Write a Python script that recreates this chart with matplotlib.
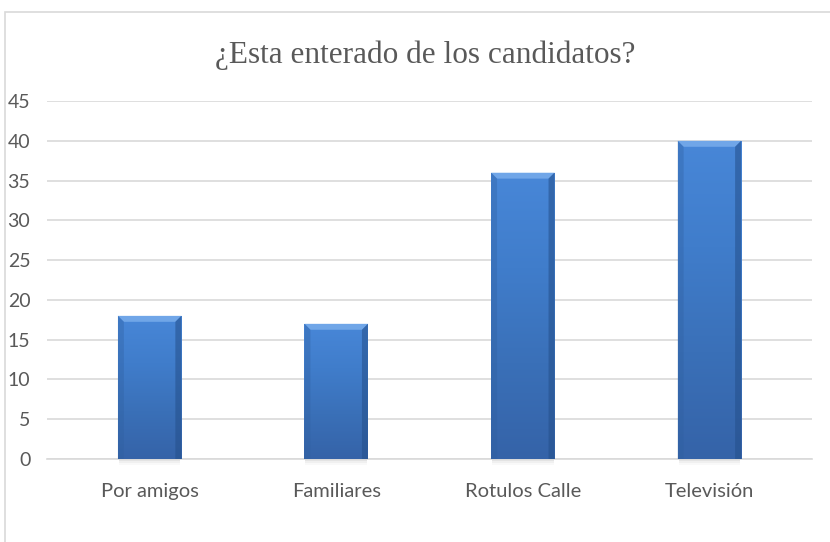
import numpy as np
import matplotlib.pyplot as plt
from matplotlib.colors import LinearSegmentedColormap
from matplotlib.patches import Polygon, Rectangle

# Encuesta: medio por el que se enteraron de los candidatos
categorias = ['Por amigos', 'Familiares', 'Rotulos Calle', 'Televisión']
respuestas = [18, 17, 36, 40]
titulo = '¿Esta enterado de los candidatos?'

gris_texto = '#595959'
gris_linea = '#d9d9d9'

fig = plt.figure(figsize=(8.3, 5.42), dpi=100)
ax = fig.add_axes([47 / 830, 1 - 459 / 542, 765 / 830, 358 / 542])

# marco del grafico
fig.patches.append(Rectangle((5 / 830, -0.05), 1.1, 1 - 12 / 542 + 0.05,
                             transform=fig.transFigure, fill=False,
                             edgecolor=gris_linea, linewidth=1.2))

ancho = 0.34
x = np.arange(len(categorias))
barras = ax.bar(x, respuestas, width=ancho, color='#3b74c0', zorder=3)

ax.set_xlim(-0.55, len(categorias) - 0.45)
ax.set_ylim(0, 45)

# degradado vertical dentro de cada barra
degradado = LinearSegmentedColormap.from_list(
    'azul', ['#3563a8', '#3a70b8', '#407dcb', '#4887d8'])
grad = np.linspace(0, 1, 256).reshape(-1, 1)

# tamaño del bisel en unidades de datos (~6 px)
bx = 6 / 187
by = 6 * 45 / 358

for rect, valor in zip(barras, respuestas):
    x0 = rect.get_x()
    x1 = x0 + rect.get_width()
    im = ax.imshow(grad, cmap=degradado, aspect='auto', origin='lower',
                   extent=[x0, x1, 0, valor], zorder=3.1)
    im.set_clip_path(rect)
    # bisel superior claro
    ax.add_patch(Polygon([[x0, valor], [x1, valor], [x1 - bx, valor - by],
                          [x0 + bx, valor - by]], closed=True,
                         facecolor='#7fb2ee', alpha=0.75, lw=0, zorder=3.2))
    # bisel izquierdo
    ax.add_patch(Polygon([[x0, 0], [x0, valor], [x0 + bx, valor - by],
                          [x0 + bx, 0]], closed=True,
                         facecolor='#2f5f9f', alpha=0.35, lw=0, zorder=3.2))
    # bisel derecho oscuro
    ax.add_patch(Polygon([[x1, 0], [x1, valor], [x1 - bx, valor - by],
                          [x1 - bx, 0]], closed=True,
                         facecolor='#244f8a', alpha=0.55, lw=0, zorder=3.2))
    # sombra suave bajo la barra
    for k, a in enumerate([0.10, 0.07, 0.04]):
        ax.add_patch(Rectangle((x0 + 0.005, -0.25 * (k + 1)), ancho - 0.01,
                               0.25 * (k + 1), facecolor='#7f7f7f', alpha=a,
                               lw=0, zorder=2.5, clip_on=False))

ax.set_yticks(range(0, 46, 5))
ax.yaxis.grid(True, color=gris_linea, linewidth=1.2, zorder=0)
ax.set_axisbelow(True)
ax.set_xticks(x)
ax.set_xticklabels(categorias)

for s in ['top', 'right', 'left']:
    ax.spines[s].set_visible(False)
ax.spines['bottom'].set_color(gris_linea)
ax.spines['bottom'].set_linewidth(1.2)
ax.tick_params(axis='both', length=0, colors=gris_texto, labelsize=14)
ax.tick_params(axis='x', pad=17, labelsize=14.5)
ax.tick_params(axis='y', pad=12)
for lbl in ax.get_xticklabels() + ax.get_yticklabels():
    lbl.set_fontfamily('Lato')

fig.text(425 / 830, 1 - 63 / 542, titulo, ha='center', va='baseline',
         fontsize=22.5, color=gris_texto, family='Liberation Serif')

fig.savefig('out.png', dpi=100)
